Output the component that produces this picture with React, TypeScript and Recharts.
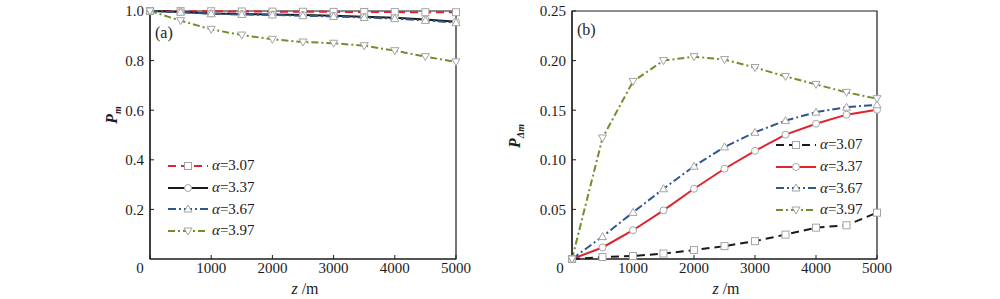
import React from "react"
import { LineChart, Line, XAxis, YAxis, ReferenceArea, Legend } from "recharts"

// distance along the path, metres
const zSteps = [0, 500, 1000, 1500, 2000, 2500, 3000, 3500, 4000, 4500, 5000]
const alphaValues = ["3.07", "3.37", "3.67", "3.97"]

// (a) P_m
const pm307 = [1.0, 0.9995, 0.999, 0.998, 0.9975, 0.997, 0.9965, 0.996, 0.9955, 0.995, 0.995]
const pm337 = [1.0, 0.996, 0.99, 0.988, 0.986, 0.984, 0.981, 0.977, 0.973, 0.966, 0.957]
const pm367 = [1.0, 0.995, 0.989, 0.986, 0.984, 0.981, 0.978, 0.974, 0.969, 0.962, 0.953]
const pm397 = [1.0, 0.961, 0.926, 0.903, 0.886, 0.875, 0.87, 0.86, 0.84, 0.816, 0.795]

// (b) P_delta_m
const pd307 = [0, 0.002, 0.003, 0.0055, 0.009, 0.013, 0.018, 0.0246, 0.0316, 0.034, 0.0467]
const pd337 = [0, 0.0116, 0.029, 0.049, 0.0708, 0.091, 0.109, 0.1254, 0.1364, 0.1455, 0.1505]
const pd367 = [0, 0.0226, 0.047, 0.0708, 0.0935, 0.113, 0.1277, 0.1395, 0.148, 0.153, 0.1555]
const pd397 = [0, 0.122, 0.179, 0.2, 0.204, 0.201, 0.193, 0.184, 0.176, 0.168, 0.1616]

const xTicks = [0, 1000, 2000, 3000, 4000, 5000]
const pmTicks = [0.2, 0.4, 0.6, 0.8, 1.0]
const pdTicks = [0.05, 0.1, 0.15, 0.2, 0.25]

const FONT = '"Liberation Serif", "DejaVu Serif", serif'
const INK = "#1c1c1c"
const RED = "#e0232d"
const BLACK = "#1a1a1a"
const BLUE = "#2e5790"
const GREEN = "#6f8f2a"
const MARK = "#a4a4a4"

type Shape = "square" | "circle" | "up" | "down"

interface SeriesStyle {
  key: string
  color: string
  dash?: string
  shape: Shape
}

const stylesA: SeriesStyle[] = [
  { key: "a0", color: RED, dash: "8 5", shape: "square" },
  { key: "a1", color: BLACK, shape: "circle" },
  { key: "a2", color: BLUE, dash: "8 3 2 3", shape: "up" },
  { key: "a3", color: GREEN, dash: "7 3 2 3", shape: "down" }
]

const stylesB: SeriesStyle[] = [
  { key: "a0", color: BLACK, dash: "8 5", shape: "square" },
  { key: "a1", color: RED, shape: "circle" },
  { key: "a2", color: BLUE, dash: "8 3 2 3", shape: "up" },
  { key: "a3", color: GREEN, dash: "7 3 2 3", shape: "down" }
]

const rowsA = zSteps.map((z, i) => ({ z, a0: pm307[i], a1: pm337[i], a2: pm367[i], a3: pm397[i] }))
const rowsB = zSteps.map((z, i) => ({ z, a0: pd307[i], a1: pd337[i], a2: pd367[i], a3: pd397[i] }))

function Marker({ shape, cx, cy }: { shape: Shape; cx: number; cy: number }) {
  const r = 3.5
  const common = { fill: "#fff", stroke: MARK, strokeWidth: 1 }
  if (shape === "square") return <rect x={cx - r} y={cy - r} width={r * 2} height={r * 2} {...common} />
  if (shape === "circle") return <circle cx={cx} cy={cy} r={r} {...common} />
  if (shape === "up")
    return <polygon points={`${cx},${cy - r - 0.5} ${cx - r - 0.5},${cy + r - 0.5} ${cx + r + 0.5},${cy + r - 0.5}`} {...common} />
  return <polygon points={`${cx},${cy + r + 0.5} ${cx - r - 0.5},${cy - r + 0.5} ${cx + r + 0.5},${cy - r + 0.5}`} {...common} />
}

const makeDot = (shape: Shape) => (props: any) => {
  const { cx, cy, index } = props
  if (cx == null || cy == null) return <g key={`d-${index}`} />
  return (
    <g key={`d-${index}`}>
      <Marker shape={shape} cx={cx} cy={cy} />
    </g>
  )
}

function LegendBox({ styles }: { styles: SeriesStyle[] }) {
  return (
    <div style={{ fontFamily: FONT, fontSize: 15, color: INK }}>
      {styles.map((s, i) => (
        <div key={s.key} style={{ display: "flex", alignItems: "center", height: 21.7 }}>
          <svg width={40} height={12}>
            <line x1={0} y1={6} x2={40} y2={6} stroke={s.color} strokeWidth={2} strokeDasharray={s.dash} />
            <Marker shape={s.shape} cx={20} cy={6} />
          </svg>
          <span style={{ marginLeft: 4 }}>
            <i>α</i>={alphaValues[i]}
          </span>
        </div>
      ))}
    </div>
  )
}

const XTick = (shift: number) => (props: any) => {
  const { x, y, payload } = props
  return (
    <text x={x + (payload.value === 0 ? shift : 0)} y={y} dy="0.71em" textAnchor="middle" fill={INK} fontSize={15} fontFamily={FONT}>
      {payload.value}
    </text>
  )
}

const ZLabel = (cx: number) => () => (
  <text x={cx} y={294} textAnchor="middle" fill={INK} fontSize={16} fontFamily={FONT}>
    <tspan fontStyle="italic">z</tspan>
    <tspan> /m</tspan>
  </text>
)

const PLabel = (x: number, y: number, sub: string) => () => (
  <text x={x} y={y} transform={`rotate(-90 ${x} ${y})`} textAnchor="middle" fill={INK} fontSize={16} fontFamily={FONT} fontStyle="italic" fontWeight="bold">
    <tspan>P</tspan>
    <tspan fontSize={10} dy={4}>{sub}</tspan>
  </text>
)

interface PanelProps {
  rows: any[]
  styles: SeriesStyle[]
  yMax: number
  yTicks: number[]
  digits: number
  margin: { top: number; right: number; bottom: number; left: number }
  tag: string
  tagPos: [number, number]
  legendPos: { left: number; top: number }
  zLabelX: number
  pLabel: [number, number, string]
  zeroShift: number
}

function Panel(p: PanelProps) {
  return (
    <LineChart width={500} height={299} data={p.rows} margin={p.margin}>
      <XAxis
        dataKey="z"
        type="number"
        domain={[0, 5000]}
        ticks={xTicks}
        height={30}
        axisLine={{ stroke: INK, strokeWidth: 1.2 }}
        tickLine={{ stroke: INK }}
        tickSize={-4}
        tickMargin={7}
        tick={XTick(p.zeroShift)}
        label={{ content: ZLabel(p.zLabelX) }}
      />
      <YAxis
        type="number"
        domain={[0, p.yMax]}
        ticks={p.yTicks}
        width={50}
        axisLine={{ stroke: INK, strokeWidth: 1.2 }}
        tickLine={{ stroke: INK }}
        tickSize={-4}
        tickMargin={10}
        tick={{ fill: INK, fontSize: 15, fontFamily: FONT }}
        tickFormatter={(v: number) => v.toFixed(p.digits)}
        label={{ content: PLabel(p.pLabel[0], p.pLabel[1], p.pLabel[2]) }}
      />
      <ReferenceArea x1={0} x2={5000} y1={0} y2={p.yMax} fill="none" stroke={INK} strokeWidth={1.2} />
      {p.styles.map((s) => (
        <Line
          key={s.key}
          dataKey={s.key}
          type="linear"
          stroke={s.color}
          strokeWidth={2}
          strokeDasharray={s.dash}
          dot={makeDot(s.shape)}
          activeDot={false}
          isAnimationActive={false}
        />
      ))}
      {/* centred/middle so the legend does not eat into the plot margins */}
      <Legend
        layout="vertical"
        verticalAlign="middle"
        align="center"
        wrapperStyle={{ left: p.legendPos.left, top: p.legendPos.top, width: 120 }}
        content={() => <LegendBox styles={p.styles} />}
      />
      <text x={p.tagPos[0]} y={p.tagPos[1]} fill={INK} fontSize={16} fontFamily={FONT}>
        {p.tag}
      </text>
    </LineChart>
  )
}

export default function App() {
  return (
    <div style={{ position: "absolute", left: 0, top: 0, width: 1000, height: 299, background: "#fff" }}>
      <div style={{ position: "absolute", left: 0, top: 0 }}>
        <Panel
          rows={rowsA}
          styles={stylesA}
          yMax={1}
          yTicks={pmTicks}
          digits={1}
          margin={{ top: 11, right: 44, bottom: 10, left: 100 }}
          tag="(a)"
          tagPos={[155, 38]}
          legendPos={{ left: 168, top: 155 }}
          zLabelX={305}
          pLabel={[117, 115, "m"]}
          zeroShift={-10}
        />
      </div>
      <div style={{ position: "absolute", left: 500, top: 0 }}>
        <Panel
          rows={rowsB}
          styles={stylesB}
          yMax={0.25}
          yTicks={pdTicks}
          digits={2}
          margin={{ top: 11, right: 123, bottom: 10, left: 22 }}
          tag="(b)"
          tagPos={[77, 35]}
          legendPos={{ left: 276, top: 134 }}
          zLabelX={226}
          pLabel={[20, 136, "Δm"]}
          zeroShift={-12}
        />
      </div>
    </div>
  )
}
